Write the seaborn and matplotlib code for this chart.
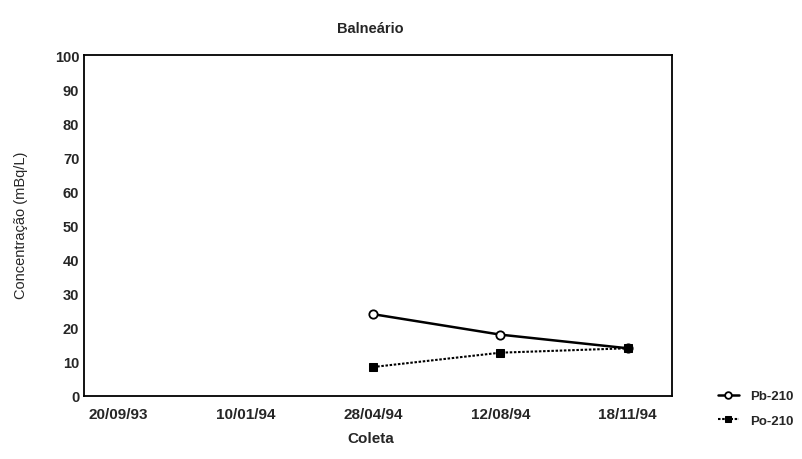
import pandas as pd
import matplotlib.pyplot as plt
from matplotlib.ticker import MultipleLocator
import seaborn as sns

# Data
coletas = ['20/09/93', '10/01/94', '28/04/94', '12/08/94', '18/11/94']
pb_210 = [None, None, 24, 18, 14]
po_210 = [None, None, 8.5, 12.7, 14]

df = pd.DataFrame({
    'pos': range(len(coletas)),
    'Coleta': coletas,
    'Pb-210': pb_210,
    'Po-210': po_210,
})

sns.set_style('white')
plt.rcParams['font.family'] = ['Liberation Sans', 'DejaVu Sans']
plt.rcParams['font.weight'] = 'bold'

fig = plt.figure(figsize=(8.02, 4.6), dpi=100)
# frame spans roughly x 84..672, y 56..397 pixels
ax = fig.add_axes([0.105, 0.137, 0.733, 0.741])

sns.lineplot(data=df, x='pos', y='Pb-210', ax=ax, color='black', linewidth=1.8,
             marker='o', markersize=6, markerfacecolor='white',
             markeredgecolor='black', markeredgewidth=1.3, label='Pb-210')
sns.lineplot(data=df, x='pos', y='Po-210', ax=ax, color='black', linewidth=1.5,
             linestyle=(0, (1.2, 0.8)), marker='s', markersize=6,
             markerfacecolor='black', markeredgecolor='black', label='Po-210')

ax.set_xlim(-0.27, 4.35)
ax.set_ylim(0, 100)
ax.set_xticks(range(len(coletas)))
ax.set_xticklabels(coletas, fontsize=11, fontweight='bold')
ax.yaxis.set_major_locator(MultipleLocator(10))
ax.yaxis.set_minor_locator(MultipleLocator(2))
ax.tick_params(axis='y', which='major', direction='in', length=4, labelsize=10.5)
ax.tick_params(axis='y', which='minor', direction='in', length=2)
ax.tick_params(axis='x', direction='in', length=3, pad=8)
for lbl in ax.get_yticklabels():
    lbl.set_fontweight('bold')

for s in ax.spines.values():
    s.set_color('black')
    s.set_linewidth(1.3)

ax.set_xlabel('')
ax.set_ylabel('')
fig.text(0.026, 0.51, 'Concentração (mBq/L)', rotation=90, ha='center', va='center',
         fontsize=10.5, fontweight='normal')
fig.text(0.462, 0.045, 'Coleta', ha='center', va='center', fontsize=11, fontweight='bold')
fig.text(0.462, 0.938, 'Balneário', ha='center', va='center', fontsize=10.5, fontweight='bold')

ax.get_legend().remove()
handles, labels = ax.get_legend_handles_labels()
fig.legend(handles, labels, loc='center left', bbox_to_anchor=(0.88, 0.11),
           frameon=False, fontsize=9.5, handlelength=1.6, handletextpad=0.9,
           labelspacing=0.9, markerscale=0.8)

fig.savefig('out.png', dpi=100)
